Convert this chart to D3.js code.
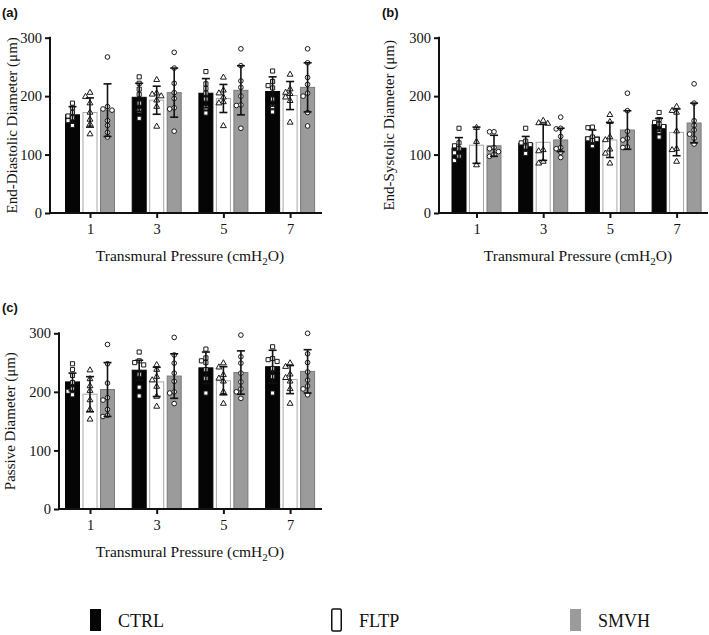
<!DOCTYPE html>
<html>
<head>
<meta charset="utf-8">
<script src="https://cdn.jsdelivr.net/npm/d3@7"></script>
<style>
  body { margin: 0; background: #fff; }
  svg { display: block; }
  text { font-family: "Liberation Serif", "Times New Roman", serif; fill: #111; }
</style>
</head>
<body>
<div id="chart"></div>
<script>
// ---- data ----
const pressures = ['1', '3', '5', '7'];
const groups = ['CTRL', 'FLTP', 'SMVH'];
const yTicks = [0, 100, 200, 300];

// (a) end-diastolic diameter, rows = pressure, cols = CTRL / FLTP / SMVH
const edMeans = [[168, 172, 176], [198, 193, 206], [205, 196, 210], [208, 201, 215]];
const edSD = [[14, 25, 45], [24, 24, 42], [25, 24, 42], [25, 24, 42]];
const edPoints = [
  [[188, 180, 172, 166, 163, 158, 150], [206, 199, 188, 172, 160, 152, 135], [267, 182, 178, 176, 158, 150, 138, 130]],
  [[233, 222, 212, 203, 188, 175, 162], [228, 205, 203, 200, 193, 182, 148], [275, 248, 222, 206, 196, 180, 178, 140]],
  [[242, 221, 213, 205, 195, 180, 171], [232, 210, 205, 198, 190, 188, 149], [281, 252, 226, 215, 200, 185, 184, 145]],
  [[243, 225, 218, 214, 195, 182, 173], [237, 212, 206, 204, 198, 192, 155], [281, 257, 232, 220, 205, 200, 172, 149]]
];

// (b) end-systolic diameter
const esMeans = [[111, 116, 115], [119, 121, 125], [130, 125, 142], [151, 138, 154]];
const esSD = [[18, 31, 18], [12, 31, 20], [12, 30, 33], [11, 40, 34]];
const esPoints = [
  [[145, 120, 115, 110, 103, 97, 90], [146, 122, 82], [139, 139, 112, 110, 105, 100, 97]],
  [[145, 123, 120, 117, 115, 113, 102], [158, 154, 153, 108, 106, 88, 85], [164, 145, 144, 131, 112, 110, 104, 95]],
  [[147, 146, 130, 127, 126, 124, 115], [168, 156, 130, 125, 109, 102, 85], [205, 175, 140, 128, 125, 113, 112]],
  [[172, 160, 155, 152, 148, 140, 130], [182, 175, 172, 140, 110, 108, 88], [221, 188, 158, 150, 142, 135, 128, 118]]
];

// (c) passive diameter
const pdMeans = [[217, 196, 204], [237, 217, 227], [241, 219, 233], [243, 221, 235]];
const pdSD = [[15, 30, 46], [17, 25, 38], [27, 24, 37], [28, 24, 37]];
const pdPoints = [
  [[248, 238, 228, 216, 205, 201, 195], [237, 222, 210, 202, 186, 170, 153], [281, 248, 215, 190, 186, 170, 160, 158]],
  [[268, 253, 250, 246, 230, 208, 193], [246, 238, 226, 220, 209, 192, 175], [293, 263, 249, 232, 218, 200, 198, 180]],
  [[273, 258, 253, 250, 238, 223, 198], [249, 242, 229, 223, 218, 200, 180], [297, 260, 249, 232, 217, 205, 200, 189]],
  [[277, 257, 255, 252, 240, 226, 198], [249, 243, 230, 224, 218, 205, 180], [300, 265, 250, 234, 220, 210, 205, 195]]
];

// ---- look ----
const barFill = { CTRL: '#050505', FLTP: '#ffffff', SMVH: '#9b9b9b' };
const barStroke = { CTRL: '#050505', FLTP: '#a8a8a8', SMVH: '#7a7a7a' };
const symbols = { CTRL: d3.symbolSquare, FLTP: d3.symbolTriangle, SMVH: d3.symbolCircle };

const W = 709, H = 635;
const svg = d3.select('#chart').append('svg')
  .attr('width', W).attr('height', H);

function drawPanel(p) {
  const g = svg.append('g');

  const y = d3.scaleLinear().domain([0, 300]).range([p.y0, p.y1]);
  const x = d3.scalePoint().domain(pressures).range([p.cat0, p.cat0 + 3 * 66.7]);
  const xg = d3.scaleBand().domain(groups).range([-24.5, 24.5]).paddingInner(0.2);

  // bars
  pressures.forEach((pr, i) => {
    groups.forEach((gr, j) => {
      g.append('rect')
        .attr('x', x(pr) + xg(gr))
        .attr('y', y(p.means[i][j]))
        .attr('width', xg.bandwidth())
        .attr('height', y(0) - y(p.means[i][j]))
        .attr('fill', barFill[gr])
        .attr('stroke', barStroke[gr])
        .attr('stroke-width', 1);
    });
  });

  // individual points, dodged sideways when they overlap
  pressures.forEach((pr, i) => {
    groups.forEach((gr, j) => {
      const cx = x(pr) + xg(gr) + xg.bandwidth() / 2;
      const placed = [];
      p.points[i][j].slice().sort((a, b) => b - a).forEach(v => {
        const py = y(v);
        const offs = [0, -4.5, 4.5];
        // pick the slot with the fewest close neighbours
        let dx = 0, best = Infinity;
        offs.forEach(o => {
          const n = placed.filter(q => Math.abs(q.dx - o) < 4 && Math.abs(q.py - py) < 4.5).length;
          if (n < best) { best = n; dx = o; }
        });
        placed.push({ dx, py });
        g.append('path')
          .attr('d', d3.symbol().type(symbols[gr]).size(gr === 'FLTP' ? 15 : 17)())
          .attr('transform', `translate(${cx + dx},${py})`)
          .attr('fill', '#fff')
          .attr('stroke', '#1a1a1a')
          .attr('stroke-width', 1);
      });
    });
  });

  // error bars (mean ± SD)
  pressures.forEach((pr, i) => {
    groups.forEach((gr, j) => {
      const cx = x(pr) + xg(gr) + xg.bandwidth() / 2;
      const m = p.means[i][j], s = p.sd[i][j];
      const eb = g.append('g').attr('stroke', '#111').attr('stroke-width', 1.6);
      eb.append('line').attr('x1', cx).attr('x2', cx).attr('y1', y(m - s)).attr('y2', y(m + s));
      [m - s, m + s].forEach(v => {
        eb.append('line').attr('x1', cx - 4).attr('x2', cx + 4).attr('y1', y(v)).attr('y2', y(v));
      });
    });
  });

  // axes
  const yAxis = g.append('g')
    .attr('transform', `translate(${p.x0},0)`)
    .call(d3.axisLeft(y).tickValues(yTicks).tickSize(5).tickPadding(3));
  const xAxis = g.append('g')
    .attr('transform', `translate(0,${p.y0})`)
    .call(d3.axisBottom(x).tickSize(5).tickPadding(6));
  [yAxis, xAxis].forEach(a => {
    a.select('.domain').remove();
    a.selectAll('line').attr('stroke', '#111').attr('stroke-width', 2);
    a.selectAll('text')
      .style('font-family', '"Liberation Serif", serif')
      .style('font-size', '14.5px')
      .attr('fill', '#111');
  });
  g.append('line').attr('x1', p.x0).attr('x2', p.x0).attr('y1', p.y0 + 1).attr('y2', p.y1 - 1)
    .attr('stroke', '#111').attr('stroke-width', 2);
  g.append('line').attr('x1', p.x0 - 1).attr('x2', p.xEnd).attr('y1', p.y0).attr('y2', p.y0)
    .attr('stroke', '#111').attr('stroke-width', 2);

  // titles
  g.append('text')
    .attr('transform', `translate(${p.yTitleX},${(p.y0 + p.y1) / 2}) rotate(-90)`)
    .attr('text-anchor', 'middle')
    .style('font-size', '15px')
    .text(p.yTitle);

  const xt = g.append('text')
    .attr('x', p.xTitleX).attr('y', p.y0 + 48)
    .attr('text-anchor', 'middle')
    .style('font-size', '15.5px');
  xt.append('tspan').text('Transmural Pressure (cmH');
  xt.append('tspan').attr('dy', 4).style('font-size', '11px').text('2');
  xt.append('tspan').attr('dy', -4).text('O)');

  g.append('text')
    .attr('x', p.labelX).attr('y', p.labelY)
    .style('font-family', '"Liberation Sans", Arial, sans-serif')
    .style('font-weight', 'bold')
    .style('font-size', '13px')
    .text(p.label);
}

const panels = [
  { label: '(a)', labelX: 2, labelY: 17, x0: 50, xEnd: 322, cat0: 90, y0: 213, y1: 37.7,
    yTitleX: 17, xTitleX: 190, yTitle: 'End-Diastolic Diameter (\u03bcm)',
    means: edMeans, sd: edSD, points: edPoints },
  { label: '(b)', labelX: 382, labelY: 17, x0: 439, xEnd: 708, cat0: 476.5, y0: 213, y1: 37.7,
    yTitleX: 394, xTitleX: 578, yTitle: 'End-Systolic Diameter (\u03bcm)',
    means: esMeans, sd: esSD, points: esPoints },
  { label: '(c)', labelX: 2, labelY: 312, x0: 59, xEnd: 322, cat0: 90, y0: 509, y1: 333.3,
    yTitleX: 15, xTitleX: 190, yTitle: 'Passive Diameter (\u03bcm)',
    means: pdMeans, sd: pdSD, points: pdPoints }
];
panels.forEach(drawPanel);

// legend
const legendX = [90, 331, 570];
const legend = svg.append('g');
groups.forEach((gr, j) => {
  legend.append('rect')
    .attr('x', legendX[j] + (gr === 'FLTP' ? 0.75 : 0)).attr('y', 609)
    .attr('width', gr === 'FLTP' ? 9.5 : 11).attr('height', 22)
    .attr('rx', gr === 'FLTP' ? 1.5 : 0)
    .attr('fill', gr === 'SMVH' ? '#9b9b9b' : barFill[gr])
    .attr('stroke', gr === 'FLTP' ? '#111' : 'none')
    .attr('stroke-width', 1.5);
  legend.append('text')
    .attr('x', legendX[j] + 28).attr('y', 627)
    .style('font-size', '18px')
    .text(gr);
});
</script>
</body>
</html>
